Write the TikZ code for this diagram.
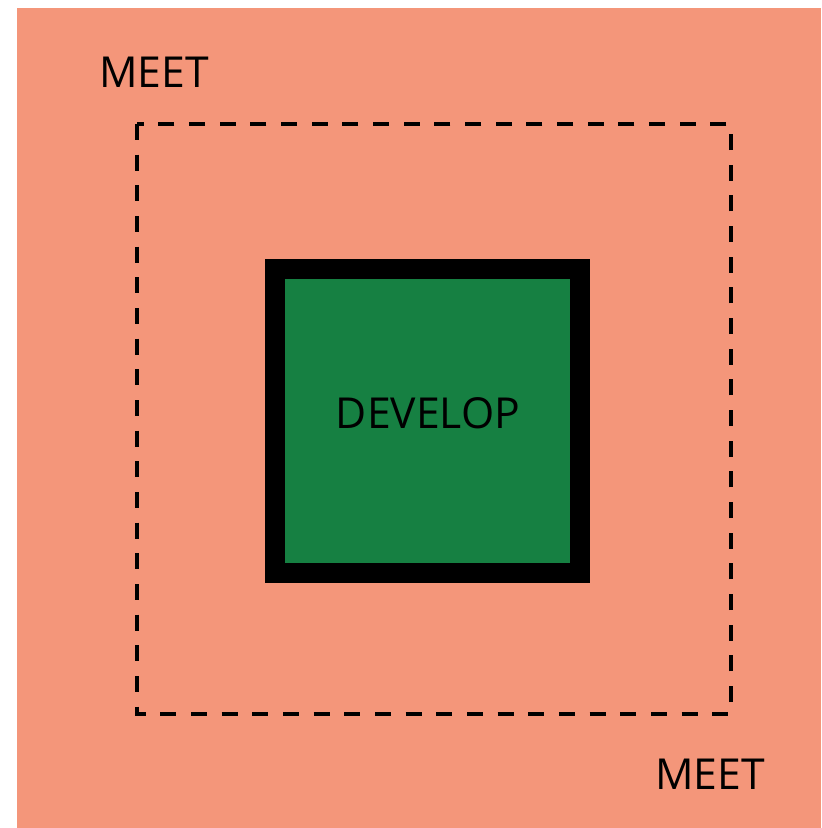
\documentclass[tikz,border=0pt]{standalone}
\usepackage{fontspec}
\setmainfont{Open Sans}
\usetikzlibrary{positioning}
\definecolor{salmon}{HTML}{F4967A}
\definecolor{devgreen}{HTML}{168042}

\begin{document}
\begin{tikzpicture}[x=0.75pt, y=-0.75pt]
  \useasboundingbox (0,0) rectangle (821,828);
  % Background
  \fill[salmon] (17,8) rectangle (821,828);
  % Outer dashed boundary
  \draw[line width=2.4pt, dash pattern=on 12pt off 11pt] (137,124) rectangle (731,714);
  % Inner square
  \draw[fill=devgreen, line width=15pt] (275,269) rectangle (580,573);
  \node[font=\fontsize{32}{38}\selectfont] (develop) at (428,413) {DEVELOP};
  % Labels
  \node[font=\fontsize{32}{38}\selectfont] (meetTop) at (154,72) {MEET};
  \node[font=\fontsize{32}{38}\selectfont] (meetBottom) at (710,774) {MEET};
\end{tikzpicture}
\end{document}
